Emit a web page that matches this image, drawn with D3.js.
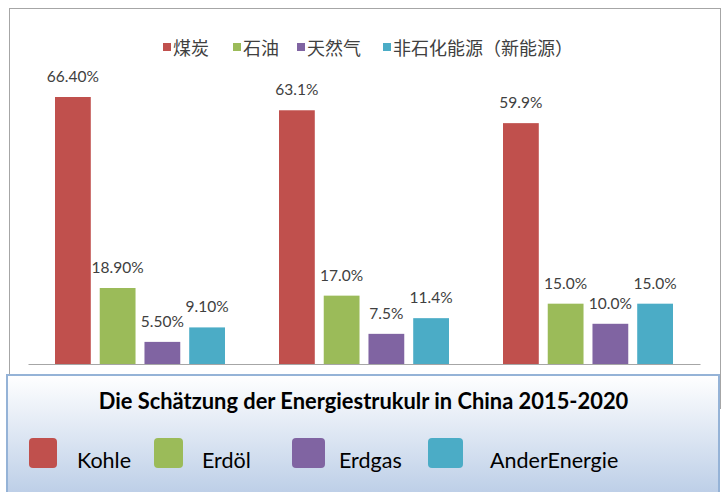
<!DOCTYPE html>
<html>
<head>
<meta charset="utf-8">
<script src="https://cdn.jsdelivr.net/npm/d3@7"></script>
<style>
  html, body { margin: 0; padding: 0; background: #ffffff; }
  svg { display: block; }
</style>
</head>
<body>
<svg id="chart" width="723" height="492"></svg>
<script>
// ---- data ----
const groups = ["I", "II", "III"];
const seriesZh = ["煤炭", "石油", "天然气", "非石化能源（新能源）"];
const seriesDe = ["Kohle", "Erdöl", "Erdgas", "AnderEnergie"];
const coalValues  = [66.4, 63.1, 59.9];
const oilValues   = [18.9, 17.0, 15.0];
const gasValues   = [5.5, 7.5, 10.0];
const otherValues = [9.1, 11.4, 15.0];
const coalLabels  = ["66.40%", "63.1%", "59.9%"];
const oilLabels   = ["18.90%", "17.0%", "15.0%"];
const gasLabels   = ["5.50%", "7.5%", "10.0%"];
const otherLabels = ["9.10%", "11.4%", "15.0%"];
const titleText = "Die Schätzung der Energiestrukulr in China 2015-2020";

// ---- styling / layout ----
const colors = ["#c0504d", "#9bbb59", "#8064a2", "#4bacc6"];
const seriesValues = [coalValues, oilValues, gasValues, otherValues];
const seriesLabels = [coalLabels, oilLabels, gasLabels, otherLabels];

const svg = d3.select("#chart");

// outer frame
svg.append("rect")
  .attr("x", 9.5).attr("y", 8.5).attr("width", 711).attr("height", 400)
  .attr("fill", "#ffffff").attr("stroke", "#a6a6a6").attr("stroke-width", 1);

// scales
const x0 = d3.scaleBand().domain(groups).range([28, 700]).padding(0);
const x1 = d3.scaleBand().domain(d3.range(4)).range([27, x0.bandwidth() - 27]).paddingInner(0.2);
const y = d3.scaleLinear().domain([0, 70]).range([364, 364 - 70 * 4.021]);

// bars
const table = [];
groups.forEach((g, gi) => {
  seriesValues.forEach((vals, si) => {
    table.push({ g, si, v: vals[gi], label: seriesLabels[si][gi] });
  });
});

const plot = svg.append("g");
plot.selectAll("rect.bar").data(table).join("rect")
  .attr("class", "bar")
  .attr("x", d => x0(d.g) + x1(d.si))
  .attr("y", d => y(d.v))
  .attr("width", x1.bandwidth())
  .attr("height", d => y(0) - y(d.v))
  .attr("fill", d => colors[d.si]);

plot.selectAll("text.lbl").data(table).join("text")
  .attr("class", "lbl")
  .attr("x", d => x0(d.g) + x1(d.si) + x1.bandwidth() / 2)
  .attr("y", d => y(d.v) - 15)
  .attr("text-anchor", "middle")
  .attr("font-family", "Lato, 'Open Sans', sans-serif")
  .attr("font-size", 15.5)
  .attr("fill", "#404040")
  .text(d => d.label);

// axis line
const axis = svg.append("g")
  .attr("transform", `translate(0,${y(0)})`)
  .call(d3.axisBottom(x0).tickSize(0).tickSizeOuter(0).tickFormat(""));
axis.select(".domain").attr("stroke", "#a6a6a6").attr("stroke-width", 1);

// top legend (Chinese)
const topLegendX = [163, 233, 297, 383];
const tl = svg.append("g");
seriesZh.forEach((name, i) => {
  tl.append("rect")
    .attr("x", topLegendX[i]).attr("y", 43).attr("width", 8).attr("height", 8)
    .attr("fill", colors[i]);
  tl.append("text")
    .attr("x", topLegendX[i] + 10).attr("y", 47)
    .attr("dominant-baseline", "central")
    .attr("font-family", "'Noto Sans CJK SC', sans-serif")
    .attr("font-size", 18)
    .attr("fill", "#404040")
    .text(name);
});

// bottom box with gradient
const defs = svg.append("defs");
const grad = defs.append("linearGradient").attr("id", "boxGrad")
  .attr("x1", 0).attr("y1", 0).attr("x2", 0).attr("y2", 1);
grad.append("stop").attr("offset", "0%").attr("stop-color", "#ffffff");
grad.append("stop").attr("offset", "100%").attr("stop-color", "#b9cce6");

svg.append("rect")
  .attr("x", 7).attr("y", 375).attr("width", 712).attr("height", 125)
  .attr("fill", "url(#boxGrad)")
  .attr("stroke", "#95b3d7").attr("stroke-width", 2);

const title = svg.append("text")
  .attr("x", 363.5).attr("y", 409)
  .attr("text-anchor", "middle")
  .attr("font-family", "Lato, 'Open Sans', sans-serif")
  .attr("font-weight", "bold")
  .attr("font-size", 21)
  .attr("fill", "#000000")
  .text(titleText);
// fit title to reference width
const tw = title.node().getComputedTextLength();
if (tw > 0) title.attr("font-size", 21 * 530 / tw);

// bottom legend (German)
const botSquareX = [29, 154, 292, 428];
const botSquareW = [28, 29, 33, 35];
const botTextX = [77, 202, 339, 490];
const bl = svg.append("g");
seriesDe.forEach((name, i) => {
  bl.append("rect")
    .attr("x", botSquareX[i]).attr("y", 438)
    .attr("width", botSquareW[i]).attr("height", 30)
    .attr("rx", 4).attr("ry", 4)
    .attr("fill", colors[i]);
  bl.append("text")
    .attr("x", botTextX[i]).attr("y", 468)
    .attr("font-family", "Lato, 'Open Sans', sans-serif")
    .attr("font-size", 21.5)
    .attr("fill", "#000000")
    .text(name);
});
</script>
</body>
</html>
